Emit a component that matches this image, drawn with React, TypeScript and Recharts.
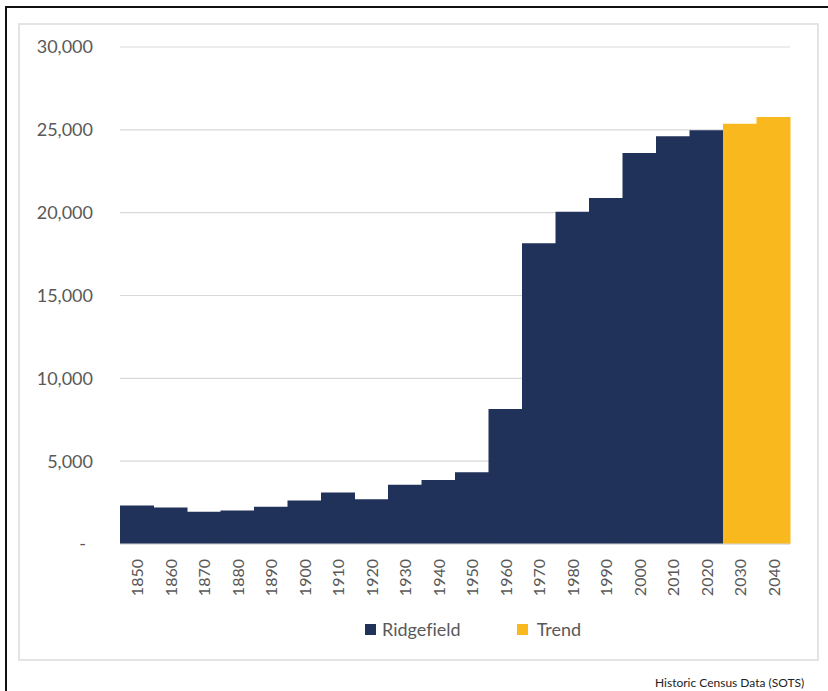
import React from "react";
import { BarChart, Bar, XAxis, YAxis, CartesianGrid, Legend } from "recharts";

const years = ["1850","1860","1870","1880","1890","1900","1910","1920","1930","1940","1950","1960","1970","1980","1990","2000","2010","2020","2030","2040"];
const ridgefield: (number | null)[] = [2322,2205,1945,2025,2245,2625,3105,2708,3570,3870,4335,8145,18150,20055,20880,23605,24610,24970,null,null];
const trend: (number | null)[] = [null,null,null,null,null,null,null,null,null,null,null,null,null,null,null,null,null,null,25367,25770];
const yTicks = [0,5000,10000,15000,20000,25000,30000];

const NAVY = "#203259";
const GOLD = "#F9B81E";
const TEXT = "#595959";

const data = years.map((y, i) => ({ year: y, Ridgefield: ridgefield[i], Trend: trend[i] }));

const YTick = (props: any) => {
  const { x, y, payload } = props;
  const v = payload.value as number;
  return (
    <text x={v === 0 ? x - 7 : x} y={y} dy="0.355em" textAnchor="end" fill={TEXT} fontSize={18}>
      {v === 0 ? "-" : v.toLocaleString("en-US")}
    </text>
  );
};

const XTick = (props: any) => {
  const { x, y, payload } = props;
  return (
    <g transform={`translate(${x},${y + 15})`}>
      <text transform="rotate(-90)" textAnchor="end" dominantBaseline="central" fill={TEXT} fontSize={16}>
        {payload.value}
      </text>
    </g>
  );
};

const LegendContent = (props: any) => {
  const { payload } = props;
  return (
    <div style={{ display: "flex", alignItems: "center", height: 20, paddingLeft: 365 }}>
      {(payload || []).map((p: any, i: number) => (
        <div key={i} style={{ display: "flex", alignItems: "center", marginRight: i === 0 ? 56 : 0 }}>
          <span style={{ display: "inline-block", width: 11, height: 11, background: p.color, marginRight: i === 0 ? 6 : 9 }} />
          <span style={{ color: TEXT, fontSize: 18, lineHeight: "20px", fontVariantLigatures: "none" }}>{p.value}</span>
        </div>
      ))}
    </div>
  );
};

export default function App() {
  return (
    <div style={{ position: "absolute", left: 0, top: 0, width: 828, height: 691, background: "#fff", fontFamily: "Lato, 'Open Sans', sans-serif", overflow: "hidden", fontVariantLigatures: "none" }}>
      <div style={{ position: "absolute", left: 5, top: 6, width: 830, height: 700, borderLeft: "2px solid #111", borderTop: "2px solid #111" }} />
      <div style={{ position: "absolute", left: 18, top: 23, width: 797, height: 634, border: "2px solid #e4e4e4" }} />
      <div style={{ position: "absolute", left: 0, top: 0 }}>
        <BarChart
          width={828}
          height={691}
          data={data}
          margin={{ top: 47, right: 38, left: 0, bottom: 27 }}
          barCategoryGap={0}
          barGap={0}
        >
          <CartesianGrid vertical={false} stroke="#d9d9d9" strokeWidth={1.2} />
          <XAxis
            dataKey="year"
            height={100}
            tickSize={0}
            tickMargin={0}
            interval={0}
            axisLine={{ stroke: "#d9d9d9" }}
            tickLine={false}
            tick={<XTick />}
          />
          <YAxis
            width={120}
            domain={[0, 30000]}
            ticks={yTicks}
            tickSize={0}
            tickMargin={27}
            axisLine={false}
            tickLine={false}
            tick={<YTick />}
          />
          <Legend
            verticalAlign="bottom"
            content={<LegendContent />}
            wrapperStyle={{ top: 619, left: 0, bottom: "auto", width: 828, height: 20 }}
          />
          <Bar dataKey="Ridgefield" stackId="a" fill={NAVY} isAnimationActive={false} />
          <Bar dataKey="Trend" stackId="a" fill={GOLD} isAnimationActive={false} />
        </BarChart>
      </div>
      <div style={{ position: "absolute", left: 655, top: 675, fontSize: 12, color: "#222", whiteSpace: "nowrap", lineHeight: "16px" }}>
        Historic Census Data (SOTS)
      </div>
    </div>
  );
}
